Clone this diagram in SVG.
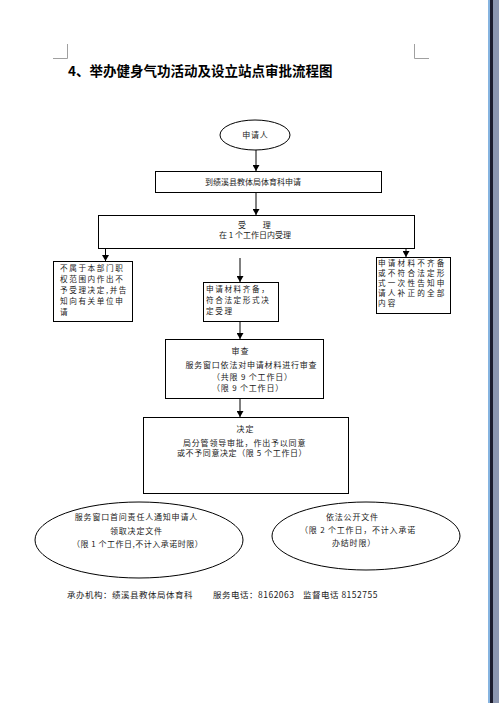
<svg xmlns="http://www.w3.org/2000/svg" width="499" height="703" viewBox="0 0 499 703">
<defs>
<marker id="arr" markerUnits="userSpaceOnUse" markerWidth="6" markerHeight="7" refX="6" refY="3.5" orient="auto">
<path d="M0,0 L6,3.5 L0,7 z" fill="#000"/>
</marker>
<style>
.box{fill:#fff;stroke:#000;stroke-width:1}
.t{font-family:"Noto Sans CJK SC","Liberation Sans",sans-serif;font-size:8px;letter-spacing:0.8px;fill:#1a1a1a}
.s{font-family:"Noto Sans CJK SC","Liberation Sans",sans-serif;font-size:7.6px;letter-spacing:1.6px;fill:#1a1a1a}
.m{text-anchor:middle}
.c{stroke:#000;stroke-width:1;fill:none;marker-end:url(#arr)}
.mark{stroke:#a0a0a0;stroke-width:1;fill:none}
</style>
</defs>
<rect x="0" y="0" width="499" height="703" fill="#fff"/>
<g id="page">
<path class="mark" d="M67.5,44 V58.5 H53"/>
<path class="mark" d="M414.5,44 V58.5 H429"/>
<rect x="488" y="0" width="2" height="703" fill="#86b4e0"/>
<rect x="490" y="0" width="3" height="703" fill="#1c1c2e"/>
<rect x="493" y="0" width="6" height="703" fill="#8c96b0"/>
</g>
<text id="title" x="68" y="76" style="font-family:'Noto Sans CJK SC','Liberation Sans',sans-serif;font-size:13.5px;font-weight:bold;fill:#000">4、举办健身气功活动及设立站点审批流程图</text>
<g id="connectors">
<line class="c" x1="256" y1="150" x2="256" y2="171"/>
<line class="c" x1="256" y1="192" x2="256" y2="215"/>
<line class="c" x1="105.5" y1="248" x2="105.5" y2="261"/>
<line class="c" x1="406" y1="248" x2="406" y2="257"/>
<line class="c" x1="240" y1="258" x2="240" y2="282"/>
<line class="c" x1="240" y1="321" x2="240" y2="339"/>
<line class="c" x1="240" y1="398" x2="240" y2="417"/>
</g>
<g id="applicant">
<ellipse class="box" cx="255" cy="135" rx="35" ry="15"/>
<text class="t m" x="255.4" y="138">申请人</text>
</g>
<g id="apply">
<rect class="box" x="155.5" y="171.5" width="226" height="21"/>
<text class="t m" x="253" y="185" style="letter-spacing:0">到绩溪县教体局体育科申请</text>
</g>
<g id="accept">
<rect class="box" x="98.5" y="215.5" width="316" height="33"/>
<text class="t" x="238" y="228" style="letter-spacing:7.5px">受 理</text>
<text class="t m" x="255" y="238" style="letter-spacing:0">在 1 个工作日内受理</text>
</g>
<g id="reject">
<rect class="box" x="53.5" y="261.5" width="79" height="60"/>
<text class="s" x="60" y="271">不属于本部门职</text>
<text class="s" x="60" y="282">权范围内作出不</text>
<text class="s" x="60" y="293">予受理决定,并告</text>
<text class="s" x="60" y="304">知向有关单位申</text>
<text class="s" x="60" y="315">请</text>
</g>
<g id="complete">
<rect class="box" x="203.5" y="282.5" width="75" height="39"/>
<text class="s" x="206" y="292">申请材料齐备，</text>
<text class="s" x="206" y="303">符合法定形式决</text>
<text class="s" x="206" y="314">定受理</text>
</g>
<g id="incomplete">
<rect class="box" x="376.5" y="257.5" width="74" height="56"/>
<text class="s" x="378" y="266" style="letter-spacing:2.2px">申请材料不齐备</text>
<text class="s" x="378" y="276" style="letter-spacing:2.2px">或不符合法定形</text>
<text class="s" x="378" y="286" style="letter-spacing:2.2px">式一次性告知申</text>
<text class="s" x="378" y="296" style="letter-spacing:2.2px">请人补正的全部</text>
<text class="s" x="378" y="306" style="letter-spacing:2.2px">内容</text>
</g>
<g id="review">
<rect class="box" x="165.5" y="339.5" width="158" height="59"/>
<text class="t m" x="240.4" y="354">审查</text>
<text class="t m" x="251.4" y="368">服务窗口依法对申请材料进行审查</text>
<text class="t" x="212" y="380">（共限 9 个工作日）</text>
<text class="t" x="212" y="391">（限 9 个工作日）</text>
</g>
<g id="decision">
<rect class="box" x="143.5" y="417.5" width="205" height="76"/>
<text class="t m" x="245.4" y="432">决定</text>
<text class="t" x="183" y="446">局分管领导审批，作出予以同意</text>
<text class="t" x="177" y="456" style="letter-spacing:0.6px">或不予同意决定（限 5 个工作日）</text>
</g>
<g id="notify">
<ellipse class="box" cx="139" cy="540" rx="104" ry="38"/>
<text class="t m" x="136.4" y="520">服务窗口首问责任人通知申请人</text>
<text class="t m" x="136.4" y="534">领取决定文件</text>
<text class="t" x="72" y="547" style="letter-spacing:0.5px">（限 1 个工作日,不计入承诺时限）</text>
</g>
<g id="publish">
<ellipse class="box" cx="366" cy="536" rx="94" ry="34"/>
<text class="t m" x="352.4" y="520">依法公开文件</text>
<text class="t" x="300" y="533">（限 2 个工作日，不计入承诺</text>
<text class="t" x="332" y="546">办结时限）</text>
</g>
<g id="footer">
<text class="s" x="67" y="598" style="font-size:8.5px;letter-spacing:0.5px">承办机构：绩溪县教体局体育科</text>
<text class="s" x="213" y="598" style="font-size:8.5px;letter-spacing:0.5px">服务电话：8162063</text>
<text class="s" x="303" y="598" style="font-size:8.5px;letter-spacing:0.5px">监督电话 8152755</text>
</g>
</svg>
